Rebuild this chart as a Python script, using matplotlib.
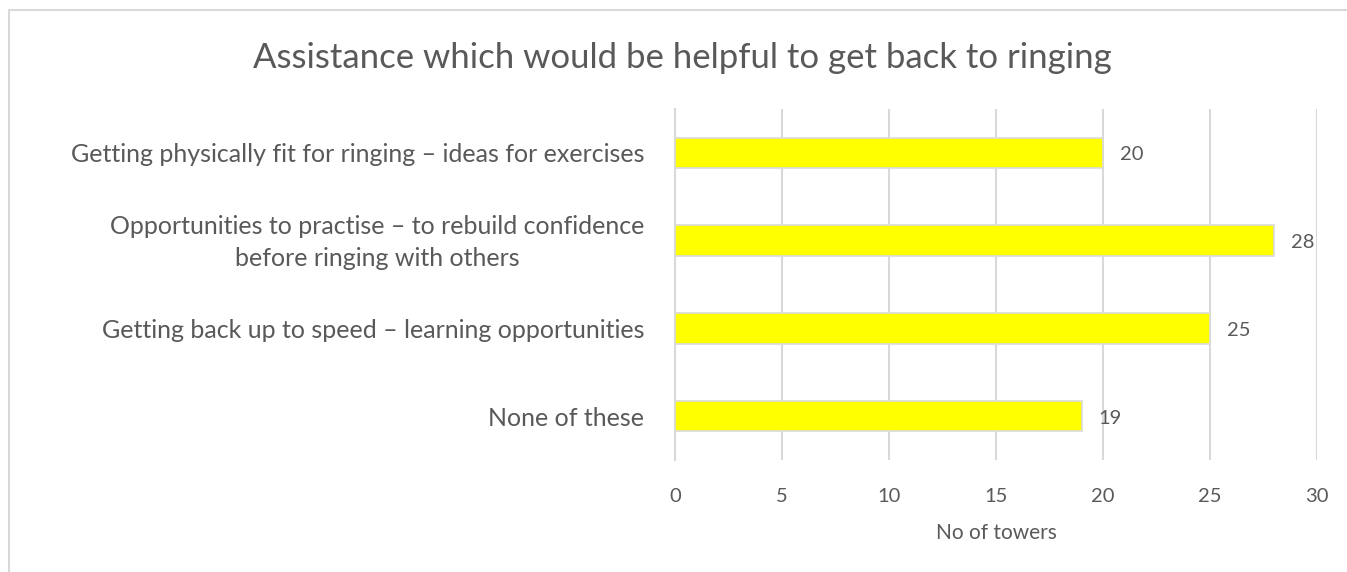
import matplotlib
matplotlib.use("Agg")
import matplotlib.pyplot as plt

categories = [
    "Getting physically fit for ringing \u2013 ideas for exercises",
    "Opportunities to practise \u2013 to rebuild confidence\nbefore ringing with others",
    "Getting back up to speed \u2013 learning opportunities",
    "None of these",
]
towers = [20, 28, 25, 19]
x_ticks = [0, 5, 10, 15, 20, 25, 30]

TEXT = "#595959"
GRID = "#d9d9d9"

plt.rcParams["font.family"] = ["Lato", "DejaVu Sans"]

fig = plt.figure(figsize=(13.47, 5.72), dpi=100)
ax = fig.add_axes([675 / 1347, 1 - 460 / 572, (1317 - 675) / 1347, (460 - 109) / 572])

ypos = list(range(len(categories)))
bars = ax.barh(ypos, towers, height=0.35, color="#ffff00", edgecolor=GRID, linewidth=1.2, zorder=3)
ax.set_ylim(len(categories) - 0.5, -0.5)
ax.set_xlim(0, 30)
ax.set_xticks(x_ticks)
ax.set_yticks(ypos)
ax.set_yticklabels([])

# category names drawn as annotations so the two-line one is centred on its bar
for y, name in zip(ypos, categories):
    ax.annotate(name, (0, y), xytext=(-22, -1.5), textcoords="offset points",
                ha="right", va="center", multialignment="center", linespacing=1.5,
                fontsize=18, color=TEXT, annotation_clip=False)

for b, v in zip(bars, towers):
    ax.annotate(str(v), (v, b.get_y() + b.get_height() / 2), xytext=(12, -1.5),
                textcoords="offset points", va="center", ha="left", fontsize=14.5, color=TEXT)

ax.grid(axis="x", color=GRID, linewidth=1.5, zorder=0)
for s in ax.spines.values():
    s.set_visible(False)
ax.spines["left"].set_visible(True)
ax.spines["left"].set_color(GRID)
ax.spines["left"].set_linewidth(1.5)
ax.tick_params(axis="both", length=0, colors=TEXT)
ax.tick_params(axis="x", labelsize=14.5, pad=20)
ax.set_xlabel("No of towers", fontsize=15, color=TEXT, labelpad=13)

fig.text(682 / 1347, 1 - 58 / 572, "Assistance which would be helpful to get back to ringing",
         ha="center", va="center", fontsize=25, color=TEXT)

# thin frame around the chart area
frame = plt.Rectangle((9 / 1347, -0.01), 1.05, 1 - 10 / 572 + 0.01, transform=fig.transFigure,
                      fill=False, edgecolor=GRID, linewidth=1.5)
fig.patches.append(frame)

fig.savefig("out.png", dpi=100)
